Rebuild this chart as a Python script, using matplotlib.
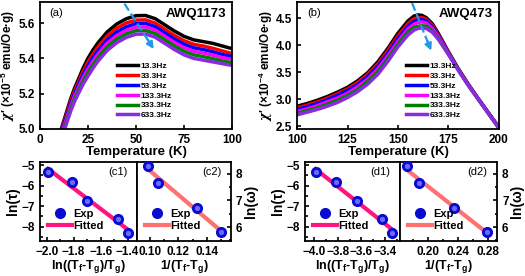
import numpy as np
import matplotlib.pyplot as plt
from matplotlib.ticker import MultipleLocator

plt.rcParams['font.family'] = ['Liberation Sans', 'DejaVu Sans']
plt.rcParams['font.weight'] = 'bold'
plt.rcParams['axes.linewidth'] = 1.3
plt.rcParams['mathtext.fontset'] = 'custom'
plt.rcParams['mathtext.rm'] = 'Liberation Sans:bold'
plt.rcParams['mathtext.it'] = 'DejaVu Serif:italic'

freqs = ["13.3Hz", "33.3Hz", "53.3Hz", "133.3Hz", "333.3Hz", "633.3Hz"]
colors = ["black", "red", "blue", "magenta", "green", "#8a2be2"]

# (a) AWQ1173
Ta = [10, 12, 14, 16, 18, 20, 22.5, 25, 27.5, 30, 35, 40, 45, 50, 55, 60, 65, 70, 75, 80, 85, 90, 95, 100]
chi_a_13 = [4.96, 5.03, 5.10, 5.17, 5.23, 5.28, 5.345, 5.40, 5.445, 5.485, 5.55, 5.595, 5.625, 5.642, 5.643, 5.625, 5.59, 5.555, 5.525, 5.505, 5.495, 5.485, 5.47, 5.455]
chi_a_33 = [4.948, 5.018, 5.087, 5.156, 5.215, 5.264, 5.326, 5.379, 5.423, 5.462, 5.527, 5.571, 5.601, 5.617, 5.618, 5.600, 5.565, 5.530, 5.500, 5.480, 5.470, 5.457, 5.442, 5.427]
chi_a_53 = [4.936, 5.006, 5.074, 5.142, 5.200, 5.248, 5.308, 5.359, 5.402, 5.441, 5.505, 5.549, 5.579, 5.597, 5.598, 5.580, 5.545, 5.510, 5.480, 5.460, 5.450, 5.437, 5.422, 5.410]
chi_a_133 = [4.924, 4.994, 5.061, 5.128, 5.185, 5.232, 5.290, 5.339, 5.382, 5.421, 5.485, 5.529, 5.559, 5.577, 5.578, 5.560, 5.525, 5.490, 5.460, 5.440, 5.430, 5.418, 5.404, 5.395]
chi_a_333 = [4.912, 4.982, 5.048, 5.114, 5.170, 5.216, 5.272, 5.319, 5.362, 5.401, 5.465, 5.509, 5.539, 5.557, 5.558, 5.540, 5.505, 5.470, 5.440, 5.420, 5.410, 5.398, 5.385, 5.375]
chi_a_633 = [4.900, 4.970, 5.035, 5.100, 5.155, 5.200, 5.254, 5.299, 5.342, 5.381, 5.445, 5.489, 5.519, 5.537, 5.538, 5.520, 5.485, 5.450, 5.420, 5.400, 5.390, 5.380, 5.370, 5.360]

# (b) AWQ473
Tb = [100, 105, 110, 115, 120, 125, 130, 135, 140, 145, 150, 155, 158, 160, 162, 164, 167, 170, 175, 180, 185, 190, 195, 200]
chi_b_13 = [2.87, 2.92, 2.98, 3.05, 3.13, 3.22, 3.34, 3.49, 3.69, 3.94, 4.22, 4.45, 4.54, 4.56, 4.55, 4.51, 4.40, 4.22, 3.88, 3.56, 3.27, 3.00, 2.74, 2.48]
chi_b_33 = [2.84, 2.89, 2.95, 3.02, 3.10, 3.19, 3.31, 3.46, 3.65, 3.90, 4.17, 4.40, 4.49, 4.51, 4.51, 4.48, 4.37, 4.20, 3.87, 3.55, 3.27, 3.00, 2.74, 2.48]
chi_b_53 = [2.81, 2.86, 2.92, 2.99, 3.07, 3.16, 3.27, 3.42, 3.61, 3.85, 4.12, 4.35, 4.44, 4.47, 4.47, 4.45, 4.34, 4.18, 3.86, 3.55, 3.26, 3.00, 2.74, 2.48]
chi_b_133 = [2.77, 2.82, 2.88, 2.95, 3.02, 3.11, 3.23, 3.37, 3.56, 3.80, 4.07, 4.30, 4.39, 4.42, 4.43, 4.41, 4.31, 4.16, 3.85, 3.54, 3.26, 2.99, 2.73, 2.47]
chi_b_333 = [2.74, 2.79, 2.84, 2.91, 2.98, 3.07, 3.18, 3.33, 3.51, 3.75, 4.02, 4.25, 4.33, 4.35, 4.36, 4.35, 4.27, 4.13, 3.84, 3.54, 3.25, 2.99, 2.73, 2.47]
chi_b_633 = [2.71, 2.76, 2.81, 2.87, 2.94, 3.03, 3.14, 3.28, 3.46, 3.70, 3.97, 4.19, 4.28, 4.31, 4.32, 4.31, 4.24, 4.11, 3.83, 3.53, 3.25, 2.99, 2.73, 2.47]

# arrows (start, end) in data units
arrow_a = [(44, 5.71), (60, 5.44)]
arrow_b = [(157, 4.78), (167, 3.85)]

# (c1)/(c2), (d1)/(d2)
ln_tau = [-5.34, -5.81, -6.73, -7.65, -8.29]
c1_x = [-1.99, -1.81, -1.70, -1.47, -1.40]
d1_x = [-3.99, -3.82, -3.64, -3.42, -3.34]
ln_w = [8.29, 7.65, 6.73, 5.81]
c2_x = [0.099, 0.106, 0.133, 0.150]
d2_x = [0.171, 0.187, 0.234, 0.279]

fig = plt.figure(figsize=(5.25, 2.76), dpi=100)


def top_panel(rect, T, curves, xlim, ylim, xmajor, ymajor, tag, name, ylabel, arrow, leg_pos):
    ax = fig.add_axes(rect)
    for y, c, f in zip(curves, colors, freqs):
        ax.plot(T, y, color=c, lw=2.5, label=f)
    ax.set_xlim(*xlim)
    ax.set_ylim(*ylim)
    ax.xaxis.set_major_locator(MultipleLocator(xmajor))
    ax.yaxis.set_major_locator(MultipleLocator(ymajor))
    ax.tick_params(direction='in', labelsize=8.5, width=1.2, length=3)
    ax.set_xlabel("Temperature (K)", fontsize=9.5, fontweight='bold', labelpad=0)
    ax.set_ylabel(ylabel, fontsize=8.5, fontweight='bold', labelpad=1)
    ax.text(0.05, 0.89, tag, transform=ax.transAxes, fontsize=8, fontweight='normal')
    ax.text(0.97, 0.88, name, transform=ax.transAxes, fontsize=9.5, fontweight='bold', ha='right')
    (x0, y0), (x1, y1) = arrow
    ax.plot([x0, x0 + 0.85 * (x1 - x0)], [y0, y0 + 0.85 * (y1 - y0)], ls='--', color='#1e9be8', lw=1.6)
    ax.annotate('', xy=(x1, y1), xytext=(x0 + 0.7 * (x1 - x0), y0 + 0.7 * (y1 - y0)),
                arrowprops=dict(arrowstyle='-|>', color='#1e9be8', lw=1.6, mutation_scale=10))
    leg = ax.legend(loc='upper left', bbox_to_anchor=leg_pos, frameon=False, fontsize=6,
                    handlelength=2.5, labelspacing=0.25, handletextpad=0.35, borderpad=0)
    for t in leg.get_texts():
        t.set_fontweight('bold')
    return ax


top_panel([0.076, 0.533, 0.366, 0.46], Ta,
          [chi_a_13, chi_a_33, chi_a_53, chi_a_133, chi_a_333, chi_a_633],
          (0, 100), (5.0, 5.72), 25, 0.2, "(a)", "AWQ1173",
          r"$\chi\prime$ (×10$^{-5}$ emu/Oe·g)", arrow_a, (0.38, 0.56))
top_panel([0.566, 0.533, 0.384, 0.46], Tb,
          [chi_b_13, chi_b_33, chi_b_53, chi_b_133, chi_b_333, chi_b_633],
          (100, 200), (2.45, 4.8), 25, 0.5, "(b)", "AWQ473",
          r"$\chi\prime$ (×10$^{-4}$ emu/Oe·g)", arrow_b, (0.52, 0.56))


def fit_panel(rect, x, y, xlim, ylim, xmajor, ymajor, fitcolor, tag, xlabel, ylabel, right):
    ax = fig.add_axes(rect)
    k, b = np.polyfit(x, y, 1)
    xx = np.array([min(x), max(x)])
    ax.plot(x, y, 'o', color='#0a0ad0', ms=7, label='Exp', zorder=3)
    ax.plot(x, y, 'o', color='#6a6aff', ms=2.8, zorder=4)
    ax.plot(xx, k * xx + b, color=fitcolor, lw=3, label='Fitted', zorder=2)
    ax.set_xlim(*xlim)
    ax.set_ylim(*ylim)
    ax.xaxis.set_major_locator(MultipleLocator(xmajor))
    ax.xaxis.set_minor_locator(MultipleLocator(xmajor / 2))
    ax.yaxis.set_major_locator(MultipleLocator(ymajor))
    ax.yaxis.set_minor_locator(MultipleLocator(ymajor / 2))
    ax.tick_params(which='both', direction='in', labelsize=8.5, width=1.2)
    ax.tick_params(which='major', length=3)
    ax.tick_params(which='minor', length=1.8)
    ax.set_xlabel(xlabel, fontsize=9, fontweight='bold', labelpad=0)
    if right:
        ax.yaxis.tick_right()
        ax.yaxis.set_label_position('right')
        ax.tick_params(which='both', left=False)
    ax.set_ylabel(ylabel, fontsize=10, fontweight='bold', labelpad=1)
    ax.text(0.9, 0.83, tag, transform=ax.transAxes, fontsize=8, fontweight='normal', ha='right')
    leg = ax.legend(loc='lower left', bbox_to_anchor=(0.0, 0.03), frameon=False, fontsize=8,
                    handlelength=2.2, labelspacing=0.2, handletextpad=0.1, borderpad=0.2)
    for t in leg.get_texts():
        t.set_fontweight('bold')
    return ax


xl1 = r"ln((T$_\mathregular{f}$-T$_\mathregular{g}$)/T$_\mathregular{g}$)"
xl2 = r"1/(T$_\mathregular{f}$-T$_\mathregular{g}$)"
fit_panel([0.076, 0.127, 0.185, 0.286], c1_x, ln_tau, (-2.05, -1.33), (-8.7, -4.85), 0.2, 1,
          '#ff1480', "(c1)", xl1, "ln(τ)", False)
fit_panel([0.261, 0.127, 0.179, 0.286], c2_x, ln_w, (0.091, 0.157), (5.48, 8.44), 0.02, 1,
          '#ff7070', "(c2)", xl2, "ln(ω)", True)
fit_panel([0.581, 0.127, 0.181, 0.286], d1_x, ln_tau, (-4.08, -3.27), (-8.7, -4.85), 0.2, 1,
          '#ff1480', "(d1)", xl1, "ln(τ)", False)
fit_panel([0.762, 0.127, 0.185, 0.286], d2_x, ln_w, (0.162, 0.292), (5.48, 8.44), 0.04, 1,
          '#ff7070', "(d2)", xl2, "ln(ω)", True)

fig.savefig("out.png", dpi=100)
